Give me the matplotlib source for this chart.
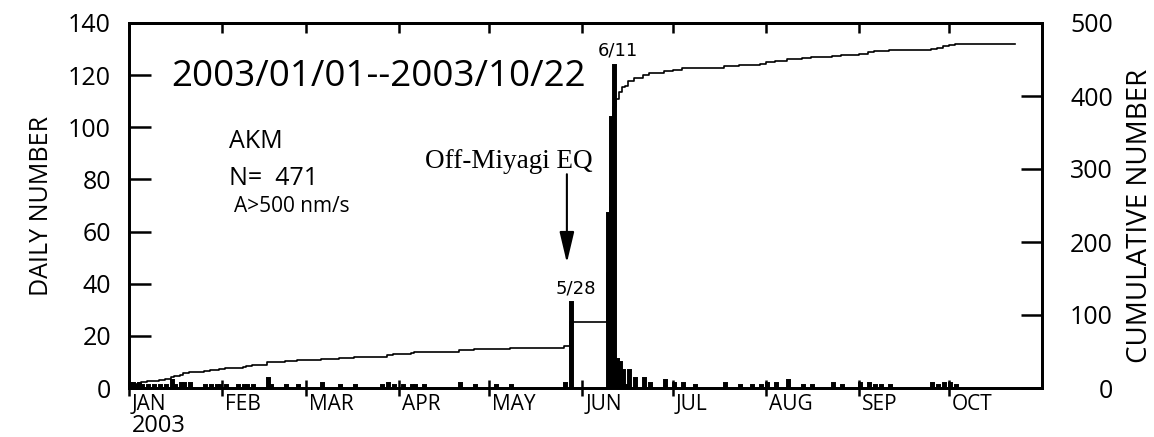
import numpy as np
import pandas as pd
import matplotlib
matplotlib.use("Agg")
import matplotlib.pyplot as plt
import matplotlib.transforms as mtransforms

plt.rcParams['font.family'] = ['Open Sans', 'DejaVu Sans']

# days with events (AKM, A>500 nm/s), 2003
event_dates = [
    "01-01", "01-02", "01-03", "01-04", "01-05", "01-07", "01-09", "01-11", "01-13",
    "01-15", "01-16", "01-18", "01-19", "01-21", "01-26", "01-28", "01-30", "01-31",
    "02-02", "02-06", "02-08", "02-09", "02-11", "02-16", "02-17", "02-22", "02-26",
    "03-06", "03-12", "03-17", "03-26", "03-28", "03-30",
    "04-02", "04-05", "04-06", "04-09", "04-21", "04-26",
    "05-03", "05-08", "05-26", "05-28",
    "06-09", "06-10", "06-11", "06-12", "06-13", "06-14", "06-15", "06-16", "06-18",
    "06-21", "06-23", "06-28",
    "07-01", "07-04", "07-08", "07-18", "07-23", "07-27", "07-30",
    "08-01", "08-04", "08-08", "08-13", "08-16", "08-23", "08-26",
    "09-01", "09-04", "09-06", "09-08", "09-11", "09-25", "09-27", "09-29",
    "10-01", "10-03",
]
event_counts = [
    2, 2, 1, 2, 1, 1, 1, 1, 1,
    3, 1, 2, 2, 2, 1, 1, 1, 1,
    1, 1, 1, 1, 1, 4, 1, 1, 1,
    2, 1, 1, 1, 2, 1,
    1, 1, 1, 1, 2, 1,
    1, 1, 2, 33,
    67, 104, 124, 11, 10, 7, 1, 7, 4,
    4, 2, 3,
    2, 2, 1, 2, 1, 1, 1,
    2, 2, 3, 1, 1, 2, 1,
    2, 2, 1, 1, 1, 2, 1, 2,
    2, 1,
]
month_labels = ["JAN", "FEB", "MAR", "APR", "MAY", "JUN", "JUL", "AUG", "SEP", "OCT"]
month_starts = ["01-01", "02-01", "03-01", "04-01", "05-01", "06-01",
                "07-01", "08-01", "09-01", "10-01"]

start = pd.Timestamp("2003-01-01")
end = pd.Timestamp("2003-10-22")
day_idx = np.asarray((pd.to_datetime(["2003-" + d for d in event_dates]) - start).days)
month_idx = np.asarray((pd.to_datetime(["2003-" + d for d in month_starts]) - start).days)
n_days = (end - start).days + 1

daily = np.zeros(n_days)
np.add.at(daily, day_idx, event_counts)
cumulative = np.cumsum(daily)

fig = plt.figure(figsize=(11.54, 4.37), dpi=100)
ax = fig.add_axes([129 / 1154, 1 - 388 / 437, (1042 - 129) / 1154, (388 - 23) / 437])
ax2 = ax.twinx()

ax.bar(day_idx, event_counts, width=1, align="edge", color="black",
       edgecolor="black", linewidth=1.4)
ax2.plot(np.arange(n_days + 1), np.append(cumulative, cumulative[-1]),
         drawstyle="steps-post", color="black", lw=1.2)

ax.set_xlim(0, 304)
ax.set_ylim(0, 140)
ax2.set_ylim(0, 500)

for a in (ax, ax2):
    for s in a.spines.values():
        s.set_linewidth(2)

# y axes
ax.set_yticks(np.arange(0, 141, 20))
ax.tick_params(axis="y", direction="in", length=16, width=1.8, pad=13, labelsize=18)
ax2.set_yticks(np.arange(0, 501, 100))
ax2.tick_params(axis="y", direction="in", length=15, width=1.8, pad=51, labelsize=18)
for lbl in ax2.get_yticklabels():
    lbl.set_ha("right")
ax.set_ylabel("DAILY NUMBER", fontsize=18, labelpad=10)
fig.text(1140 / 1154, 1 - 216 / 437, "CUMULATIVE NUMBER", fontsize=20,
         rotation=90, ha="center", va="center")

# x axis: months
ax.set_xticks(month_idx)
ax.set_xticklabels(month_labels, fontsize=15)
ax.tick_params(axis="x", direction="inout", length=11, width=1.8, pad=-1)
offset = mtransforms.ScaledTranslation(3 / 100, 0, fig.dpi_scale_trans)
for lbl in ax.get_xticklabels():
    lbl.set_ha("left")
    lbl.set_transform(lbl.get_transform() + offset)
top = ax.secondary_xaxis("top")
top.set_xticks(month_idx)
top.set_xticklabels([])
top.tick_params(direction="in", length=7, width=1.8)
top.spines["top"].set_linewidth(2)

ax.text(1, -0.121, "2003", transform=ax.get_xaxis_transform(), fontsize=17,
        va="baseline", ha="left")

# annotations
ax.text(14, 116, "2003/01/01--2003/10/22", fontsize=26.5, va="baseline")
ax.text(33.3, 92, "AKM", fontsize=18, va="baseline")
ax.text(33.3, 77.8, "N=  471", fontsize=18, va="baseline")
ax.text(35, 67.4, "A>500 nm/s", fontsize=15, va="baseline")
ax.text(126.5, 84.3, "Off-Miyagi EQ", fontsize=19.5, va="baseline", ha="center",
        family="Liberation Serif")
ax.text(148.7, 36.4, "5/28", fontsize=13, va="baseline", ha="center",
        family="Liberation Sans Narrow")
ax.text(162.7, 127.6, "6/11", fontsize=13, va="baseline", ha="center",
        family="Liberation Sans Narrow")
ax.annotate("", xy=(145.8, 48), xytext=(145.8, 82),
            arrowprops=dict(arrowstyle="-|>,head_length=1.9,head_width=0.45",
                            color="black", lw=1.5, mutation_scale=10,
                            shrinkA=0, shrinkB=0))

fig.savefig("out.png", dpi=100)
